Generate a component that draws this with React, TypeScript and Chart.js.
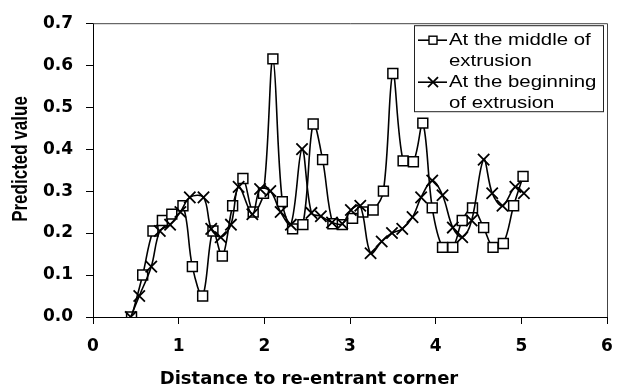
import { useEffect, useRef } from "react";
import { Chart, registerables } from "chart.js";

Chart.register(...registerables);

// Predicted value along the distance to the re-entrant corner
const middleX = [0.45, 0.58, 0.70, 0.81, 0.92, 1.05, 1.16, 1.28, 1.40, 1.51, 1.63, 1.75, 1.87, 1.99, 2.10, 2.21, 2.33, 2.45, 2.57, 2.68, 2.80, 2.91, 3.03, 3.15, 3.27, 3.39, 3.50, 3.62, 3.74, 3.85, 3.96, 4.08, 4.20, 4.31, 4.43, 4.56, 4.67, 4.79, 4.91, 5.02];
const middleY = [0.00, 0.10, 0.205, 0.23, 0.245, 0.265, 0.12, 0.05, 0.205, 0.145, 0.265, 0.33, 0.25, 0.295, 0.615, 0.275, 0.21, 0.22, 0.46, 0.375, 0.222, 0.22, 0.235, 0.25, 0.255, 0.30, 0.58, 0.372, 0.37, 0.462, 0.26, 0.166, 0.166, 0.23, 0.26, 0.213, 0.166, 0.175, 0.265, 0.335];

const beginX = [0.44, 0.54, 0.68, 0.78, 0.90, 1.02, 1.13, 1.29, 1.38, 1.49, 1.61, 1.70, 1.86, 1.95, 2.07, 2.19, 2.31, 2.44, 2.55, 2.66, 2.79, 2.91, 3.01, 3.12, 3.24, 3.37, 3.49, 3.61, 3.73, 3.83, 3.96, 4.08, 4.20, 4.31, 4.42, 4.56, 4.66, 4.78, 4.93, 5.03];
const beginY = [0.00, 0.05, 0.12, 0.205, 0.22, 0.25, 0.285, 0.285, 0.21, 0.19, 0.22, 0.31, 0.245, 0.305, 0.30, 0.25, 0.22, 0.40, 0.248, 0.24, 0.225, 0.222, 0.255, 0.265, 0.152, 0.18, 0.20, 0.21, 0.238, 0.285, 0.325, 0.29, 0.213, 0.19, 0.23, 0.375, 0.295, 0.265, 0.31, 0.295];

const xTicks = [0, 1, 2, 3, 4, 5, 6];
const yTicks = [0, 0.1, 0.2, 0.3, 0.4, 0.5, 0.6, 0.7];

const seriesNames = ["At the middle of extrusion", "At the beginning of extrusion"];
const legendRows = [
  ["At the middle of", "extrusion"],
  ["At the beginning", "of extrusion"],
];
const xTitle = "Distance to re-entrant corner";
const yTitle = "Predicted value";

const toPoints = (xs: number[], ys: number[]) => xs.map((x, i) => ({ x, y: ys[i] }));

// Frame around the plot, axis titles and the boxed legend
const decorations = {
  id: "decorations",
  beforeDatasetsDraw(chart: any) {
    const { ctx, chartArea: a } = chart;
    ctx.save();
    ctx.strokeStyle = "#444";
    ctx.lineWidth = 1;
    ctx.beginPath();
    ctx.moveTo(a.left, a.top + 0.5);
    ctx.lineTo(a.right + 0.5, a.top + 0.5);
    ctx.lineTo(a.right + 0.5, a.bottom);
    ctx.stroke();
    ctx.restore();
  },
  afterDraw(chart: any) {
    const { ctx, chartArea: a } = chart;
    ctx.save();
    ctx.fillStyle = "#000";

    // axis titles
    ctx.font = 'bold 18px "DejaVu Sans"';
    ctx.textAlign = "center";
    ctx.textBaseline = "middle";
    ctx.fillText(xTitle, 309, 379);

    ctx.save();
    ctx.translate(21, 159);
    ctx.rotate(-Math.PI / 2);
    ctx.scale(1, 1.25);
    ctx.font = 'bold 17px "Liberation Sans"';
    ctx.fillText(yTitle, 0, 0);
    ctx.restore();

    // legend box
    const bx = a.right - 193;
    const by = a.top + 2;
    const bw = 189;
    const bh = 86;
    ctx.fillStyle = "#fff";
    ctx.fillRect(bx, by, bw, bh);
    ctx.strokeStyle = "#222";
    ctx.lineWidth = 1;
    ctx.strokeRect(bx + 0.5, by + 0.5, bw, bh);

    const rowH = 21;
    const textX = bx + 35;
    chart.data.datasets.forEach((ds: any, i: number) => {
      const y1 = by + 15 + i * 2 * rowH;
      // sample line with marker
      ctx.strokeStyle = "#000";
      ctx.lineWidth = 1.6;
      ctx.beginPath();
      ctx.moveTo(bx + 4, y1);
      ctx.lineTo(bx + 33, y1);
      ctx.stroke();
      const mx = bx + 19;
      if (ds.pointStyle === "rect") {
        ctx.fillStyle = "#fff";
        ctx.fillRect(mx - 4, y1 - 4, 8, 8);
        ctx.lineWidth = 1.4;
        ctx.strokeRect(mx - 4, y1 - 4, 8, 8);
      } else {
        ctx.lineWidth = 1.8;
        ctx.beginPath();
        ctx.moveTo(mx - 5, y1 - 5);
        ctx.lineTo(mx + 5, y1 + 5);
        ctx.moveTo(mx + 5, y1 - 5);
        ctx.lineTo(mx - 5, y1 + 5);
        ctx.stroke();
      }
      // wrapped label
      ctx.fillStyle = "#000";
      ctx.font = '17px "Liberation Sans"';
      ctx.textAlign = "left";
      ctx.textBaseline = "middle";
      legendRows[i].forEach((line, j) => {
        ctx.save();
        ctx.translate(textX, y1 + j * rowH);
        ctx.scale(1.2, 1);
        ctx.fillText(line, 0, 0);
        ctx.restore();
      });
    });
    ctx.restore();
  },
};

export default function App() {
  const canvasRef = useRef<HTMLCanvasElement | null>(null);

  useEffect(() => {
    const canvas = canvasRef.current;
    if (!canvas) return;
    const tickFont = { family: '"DejaVu Sans"', size: 17, weight: "bold" as const };
    const chart = new Chart(canvas, {
      type: "line",
      data: {
        datasets: [
          {
            label: seriesNames[0],
            data: toPoints(middleX, middleY),
            borderColor: "#000",
            borderWidth: 1.6,
            pointStyle: "rect",
            pointRadius: 7,
            pointBackgroundColor: "#fff",
            pointBorderColor: "#000",
            pointBorderWidth: 1.5,
            tension: 0.35,
            fill: false,
            order: 2,
          },
          {
            label: seriesNames[1],
            data: toPoints(beginX, beginY),
            borderColor: "#000",
            borderWidth: 1.6,
            pointStyle: "crossRot",
            pointRadius: 8,
            pointBorderColor: "#000",
            pointBorderWidth: 1.8,
            tension: 0.35,
            fill: false,
            order: 1,
          },
        ],
      },
      options: {
        animation: false,
        responsive: false,
        devicePixelRatio: 1,
        layout: { padding: { left: 0, top: 20, right: 22, bottom: 0 } },
        plugins: {
          legend: { display: false },
          tooltip: { enabled: false },
        },
        scales: {
          x: {
            type: "linear",
            min: 0,
            max: 6,
            afterBuildTicks: (s: any) => {
              s.ticks = xTicks.map((v) => ({ value: v }));
            },
            afterFit: (s: any) => {
              s.height = 74;
            },
            ticks: {
              font: tickFont,
              color: "#000",
              padding: 12,
              maxRotation: 0,
              callback: (v: any) => String(v),
            },
            grid: { drawOnChartArea: false, tickLength: 7, color: "#000", lineWidth: 1 },
            border: { display: true, color: "#000", width: 1 },
          },
          y: {
            type: "linear",
            min: 0,
            max: 0.7,
            afterBuildTicks: (s: any) => {
              s.ticks = yTicks.map((v) => ({ value: v }));
            },
            afterFit: (s: any) => {
              s.width = 93;
            },
            ticks: {
              font: tickFont,
              color: "#000",
              padding: 13,
              callback: (v: any) => Number(v).toFixed(1),
            },
            grid: { drawOnChartArea: false, tickLength: 7, color: "#000", lineWidth: 1 },
            border: { display: true, color: "#000", width: 1 },
          },
        },
      },
      plugins: [decorations],
    });
    return () => chart.destroy();
  }, []);

  return (
    <div style={{ position: "absolute", left: 0, top: 0, width: 629, height: 391, background: "#fff" }}>
      <canvas ref={canvasRef} width={629} height={391} style={{ display: "block" }} />
    </div>
  );
}
